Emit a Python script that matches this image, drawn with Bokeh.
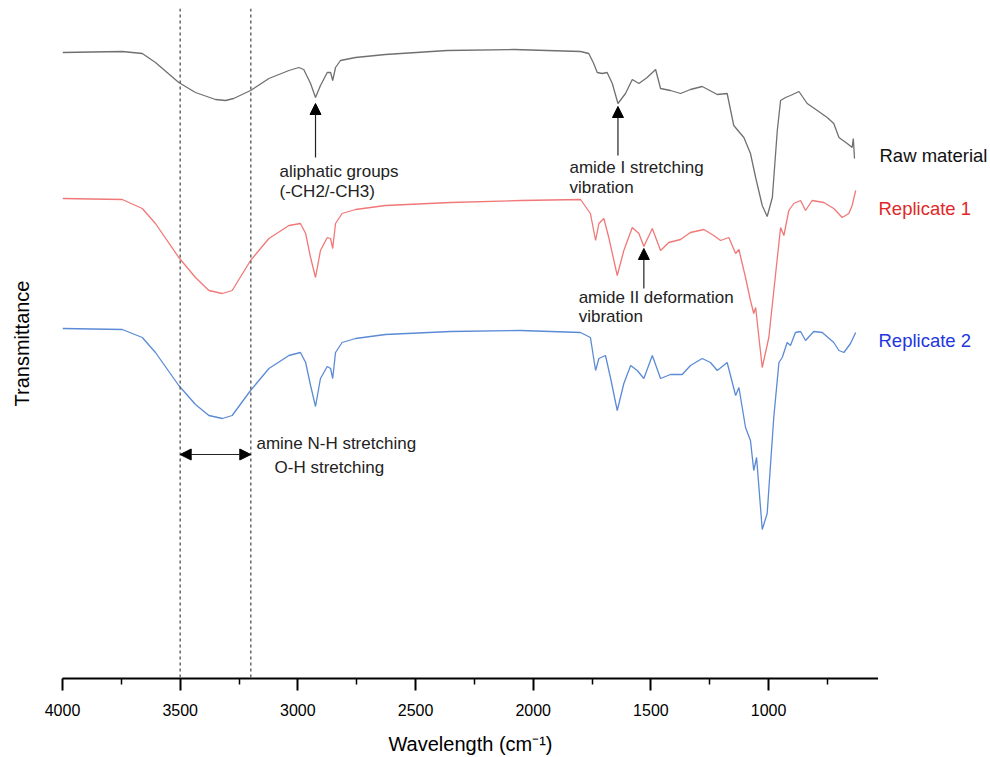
from bokeh.plotting import figure
from bokeh.layouts import row
from bokeh.models import Range1d, FixedTicker, Label, Arrow, NormalHead, Span, ColumnDataSource
from bokeh.core.properties import value
from bokeh.embed import file_html
from bokeh.resources import INLINE

# ---------------- data ----------------
raw_wn = [4000, 3746, 3661, 3605, 3506, 3435, 3350, 3307, 3273, 3201, 3123, 3038, 2996, 2975, 2946, 2925,
          2904, 2875, 2861, 2852, 2840, 2819, 2755, 2628, 2365, 2082, 1799, 1764, 1743, 1728, 1707, 1686,
          1664, 1640, 1608, 1579, 1551, 1516, 1480, 1459, 1417, 1374, 1332, 1282, 1218, 1176, 1148, 1105,
          1077, 1055, 1027, 1006, 984, 963, 949, 928, 907, 871, 836, 793, 751, 723, 701, 666, 645, 640, 635]
raw_t = [626, 627, 625, 616, 596, 586, 579, 578, 580, 588, 600, 608, 611, 609, 595, 581,
         593, 606, 606, 598, 611, 618, 621, 624, 628, 629, 627, 625, 615, 606, 605, 606,
         595, 575, 585, 599, 595, 601, 609, 590, 588, 585, 589, 592, 584, 585, 553, 541,
         525, 501, 473, 462, 481, 548, 578, 581, 583, 587, 575, 568, 561, 555, 541, 535, 531, 540, 520]

rep1_wn = [4000, 3746, 3661, 3605, 3506, 3435, 3378, 3321, 3279, 3201, 3123, 3038, 2989, 2967, 2946, 2925,
           2904, 2875, 2861, 2852, 2840, 2812, 2755, 2628, 2351, 2054, 1799, 1757, 1735, 1721, 1700, 1679,
           1643, 1615, 1579, 1551, 1530, 1494, 1459, 1424, 1374, 1332, 1275, 1233, 1204, 1169, 1140, 1126,
           1098, 1077, 1063, 1055, 1027, 999, 970, 949, 935, 914, 893, 864, 843, 815, 765, 723, 687, 659, 645, 630]
rep1_t = [480, 479, 470, 455, 421, 401, 388, 385, 388, 418, 440, 453, 455, 445, 421, 401,
          428, 441, 440, 430, 455, 465, 469, 473, 476, 478, 479, 465, 438, 455, 460, 441,
          403, 428, 451, 445, 432, 450, 428, 436, 439, 446, 449, 443, 438, 441, 425, 429,
          401, 378, 365, 371, 311, 341, 405, 451, 443, 468, 475, 478, 468, 478, 476, 470, 461, 465, 473, 488]

rep2_wn = [4000, 3746, 3661, 3605, 3506, 3435, 3378, 3321, 3279, 3201, 3123, 3038, 2989, 2967, 2946, 2925,
           2904, 2875, 2861, 2852, 2840, 2812, 2755, 2628, 2351, 2054, 1799, 1757, 1735, 1721, 1693, 1672,
           1643, 1615, 1586, 1558, 1530, 1494, 1459, 1417, 1367, 1332, 1282, 1247, 1218, 1176, 1140, 1126,
           1098, 1077, 1063, 1051, 1027, 1006, 978, 956, 942, 921, 907, 886, 864, 843, 808, 772, 723, 701,
           680, 652, 630]
rep2_t = [350, 349, 341, 326, 293, 274, 263, 260, 263, 288, 310, 323, 326, 316, 293, 272,
          300, 312, 310, 300, 326, 336, 340, 344, 347, 348, 346, 341, 308, 320, 323, 301,
          268, 295, 313, 308, 300, 323, 300, 304, 304, 313, 320, 316, 308, 316, 283, 291,
          251, 238, 208, 221, 149, 165, 261, 316, 321, 336, 333, 346, 347, 338, 347, 346, 336, 328,
          326, 335, 346]

series_names = ["Raw material", "Replicate 1", "Replicate 2"]
major_ticks = [4000, 3500, 3000, 2500, 2000, 1500, 1000]
minor_ticks = [3750, 3250, 2750, 2250, 1750, 1250, 750]
axis_end = 533                     # low-wavenumber end of the axis
band_edges = [3500, 3200]          # O-H / N-H stretching band limits
peak_aliphatic = 2925
peak_amide1 = 1640
peak_amide2 = 1530

FONT = "Liberation Sans"

yr = Range1d(0, 670)

p = figure(width=878, height=757, x_range=Range1d(4000, axis_end), y_range=yr,
           output_backend="svg", toolbar_location=None,
           min_border_left=62, min_border_right=0, min_border_top=8, min_border_bottom=79)
p.outline_line_color = None
p.grid.visible = False
p.background_fill_color = "white"
p.border_fill_color = "white"

# x axis
xa = p.xaxis[0]
xa.ticker = FixedTicker(ticks=major_ticks, minor_ticks=minor_ticks)
xa.axis_line_width = 2
xa.axis_line_color = "black"
xa.major_tick_line_width = 2
xa.minor_tick_line_width = 1.5
xa.major_tick_in = 0
xa.major_tick_out = 12
xa.minor_tick_in = 0
xa.minor_tick_out = 6
xa.major_label_standoff = 13
xa.major_label_text_font = FONT
xa.major_label_text_font_size = "16px"
xa.major_label_text_color = "black"
xa.axis_label = "Wavelength (cm\u207b\u00b9)"
xa.axis_label_text_font = FONT
xa.axis_label_text_font_size = "20px"
xa.axis_label_text_font_style = "normal"
xa.axis_label_text_color = "black"
xa.axis_label_standoff = 14

# y axis: label only
ya = p.yaxis[0]
ya.ticker = FixedTicker(ticks=[])
ya.axis_line_color = None
ya.major_tick_out = 0
ya.major_tick_in = 0
ya.minor_tick_out = 0
ya.minor_tick_in = 0
ya.major_label_standoff = 0
ya.major_label_text_font_size = "0px"
ya.axis_label = "Transmittance"
ya.axis_label_text_font = FONT
ya.axis_label_text_font_size = "20px"
ya.axis_label_text_font_style = "normal"
ya.axis_label_text_color = "black"
ya.axis_label_standoff = 30

# dotted band limits
for e in band_edges:
    p.add_layout(Span(location=e, dimension="height", line_color="#666666",
                      line_width=1.5, line_dash="3 3"))

# spectra
line_colors = ["#707070", "#f07878", "#5b8ad6"]
label_colors = ["#111111", "#e02828", "#2236e0"]
data = [(raw_wn, raw_t), (rep1_wn, rep1_t), (rep2_wn, rep2_t)]
for (wn, t), c in zip(data, line_colors):
    p.line(wn, t, line_color=c, line_width=1.3)

# annotation arrows
def head():
    return NormalHead(size=11, fill_color="black", line_color="black")

p.add_layout(Arrow(end=head(), x_start=peak_aliphatic, y_start=521, x_end=peak_aliphatic, y_end=575,
                   line_color="#222222", line_width=1.2))
p.add_layout(Arrow(end=head(), x_start=peak_amide1, y_start=523, x_end=peak_amide1, y_end=572,
                   line_color="#222222", line_width=1.2))
p.add_layout(Arrow(end=head(), x_start=peak_amide2, y_start=390, x_end=peak_amide2, y_end=430,
                   line_color="#222222", line_width=1.2))
p.add_layout(Arrow(start=head(), end=head(), x_start=band_edges[0], y_start=224,
                   x_end=band_edges[1], y_end=224, line_color="#222222", line_width=1.2))

# annotation texts
texts = [
    ("aliphatic groups", 3078, 507),
    ("(-CH2/-CH3)", 3078, 487),
    ("amide I stretching", 1846, 511),
    ("vibration", 1846, 491),
    ("amide II deformation", 1807, 381),
    ("vibration", 1807, 362),
    ("amine N-H stretching", 3176, 235),
    ("O-H stretching", 3099, 211),
]
for txt, x, y in texts:
    p.add_layout(Label(x=x, y=y, text=txt, text_font=FONT, text_font_size="17px",
                       text_color="#222222", text_baseline="middle", text_align="left"))

# ---------------- series names, in a narrow panel to the right sharing the y range ----------------
side = figure(width=112, height=757, x_range=Range1d(0, 112), y_range=yr,
              output_backend="svg", toolbar_location=None,
              x_axis_location=None, y_axis_location=None,
              min_border_left=0, min_border_right=0, min_border_top=8, min_border_bottom=79)
side.outline_line_color = None
side.grid.visible = False
side.background_fill_color = "white"
side.border_fill_color = "white"

name_dy = [3, -18, -8]
name_x = [1, 0, 0]
src = ColumnDataSource(dict(x=name_x,
                            y=[t[-1] + d for (_, t), d in zip(data, name_dy)],
                            text=series_names, color=label_colors))
side.text(x="x", y="y", text="text", text_color="color", source=src,
          text_font=value(FONT), text_font_size=value("18.5px"),
          text_baseline="middle", text_align="left")

layout = row(p, side)
open("out.html", "w").write(file_html(layout, INLINE))
